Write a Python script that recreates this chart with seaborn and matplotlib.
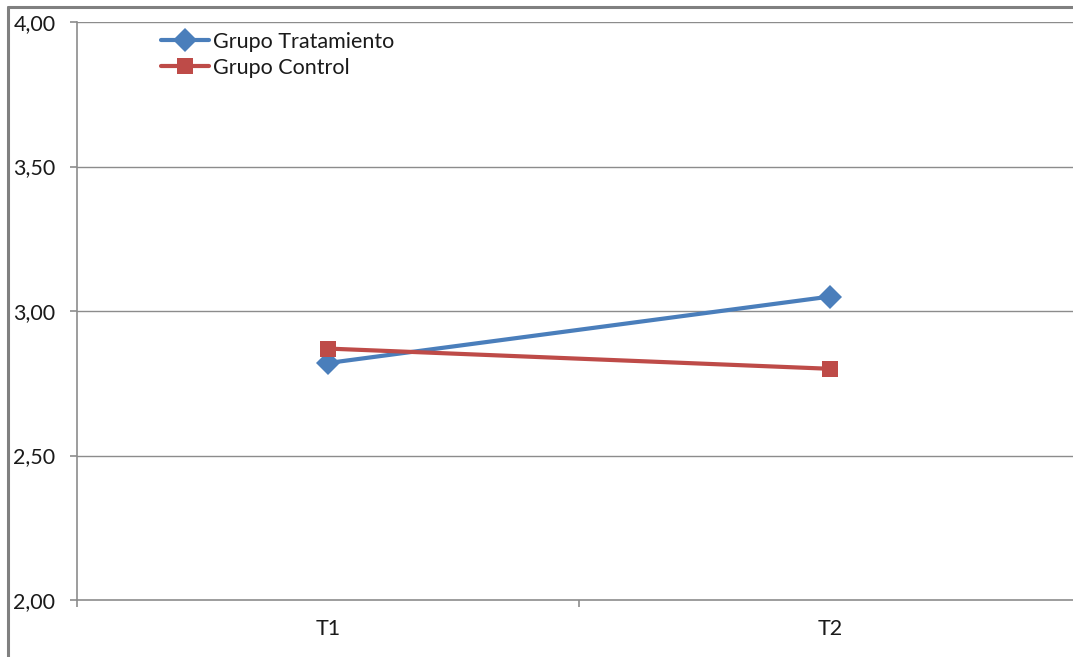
import matplotlib
matplotlib.use("Agg")
import matplotlib.pyplot as plt
from matplotlib.lines import Line2D
import seaborn as sns
import pandas as pd

# Mean scores at the two measurement times
tiempos = ["T1", "T2"]
grupos = ["Grupo Tratamiento", "Grupo Control"]
tratamiento = [2.82, 3.05]
control = [2.87, 2.80]
yticks = [2.00, 2.50, 3.00, 3.50, 4.00]

df = pd.DataFrame({
    "tiempo": tiempos * 2,
    "grupo": [grupos[0]] * 2 + [grupos[1]] * 2,
    "valor": tratamiento + control,
})

sns.set_theme(style="white")
plt.rcParams["font.family"] = ["Lato", "DejaVu Sans"]

W, H = 1073, 657
fig = plt.figure(figsize=(W / 100, H / 100), dpi=100)
# plot area: left 77px, top 22px, bottom 600px, right beyond the canvas edge
ax = fig.add_axes([77 / W, 1 - 600 / H, (1081 - 77) / W, (600 - 22) / H])

colores = {grupos[0]: "#4A7EBB", grupos[1]: "#BE4B48"}
marcadores = {grupos[0]: "D", grupos[1]: "s"}
tamanos = {grupos[0]: 12, grupos[1]: 11}

for g in grupos:
    sub = df[df["grupo"] == g]
    sns.lineplot(data=sub, x="tiempo", y="valor", ax=ax, color=colores[g],
                 marker=marcadores[g], markersize=tamanos[g], linewidth=3,
                 markeredgewidth=0, label=g, sort=False)

ax.set_xlim(-0.5, 1.5)
ax.set_ylim(2.0, 4.0)
ax.set_yticks(yticks)
ax.set_yticklabels([f"{v:.2f}".replace(".", ",") for v in yticks], fontsize=15.5,
                   color="#1a1a1a")
ax.set_xticks([0, 1])
ax.set_xticklabels(tiempos, fontsize=15.5, color="#1a1a1a")
ax.set_xlabel("")
ax.set_ylabel("")

grid_c = "#8c8c8c"
for v in yticks[1:]:
    ax.axhline(v, color=grid_c, linewidth=1, zorder=0)

for s in ["top", "right"]:
    ax.spines[s].set_visible(False)
for s in ["left", "bottom"]:
    ax.spines[s].set_color(grid_c)
    ax.spines[s].set_linewidth(1.2)

ax.tick_params(axis="y", which="major", length=5, color=grid_c, width=1.2,
               left=True, pad=10.5)
ax.tick_params(axis="x", which="major", length=0, pad=14)
# category boundary ticks on the horizontal axis
ax.set_xticks([-0.5, 0.5, 1.5], minor=True)
ax.tick_params(axis="x", which="minor", length=5, color=grid_c, width=1.2,
               bottom=True)

leg = ax.legend(loc="upper left", bbox_to_anchor=(72 / 1004, 1.004), frameon=False,
                fontsize=15.5, handlelength=2.25, handletextpad=0.15,
                labelspacing=0.3, borderaxespad=0.15)
for t in leg.get_texts():
    t.set_color("#1a1a1a")

# outer chart frame
frame_c = "#808080"
fig.add_artist(Line2D([8 / W, 1], [1 - 7 / H, 1 - 7 / H], color=frame_c,
                      linewidth=2.2, transform=fig.transFigure))
fig.add_artist(Line2D([8 / W, 8 / W], [0, 1 - 7 / H], color=frame_c,
                      linewidth=2.2, transform=fig.transFigure))

fig.savefig("out.png", dpi=100)
